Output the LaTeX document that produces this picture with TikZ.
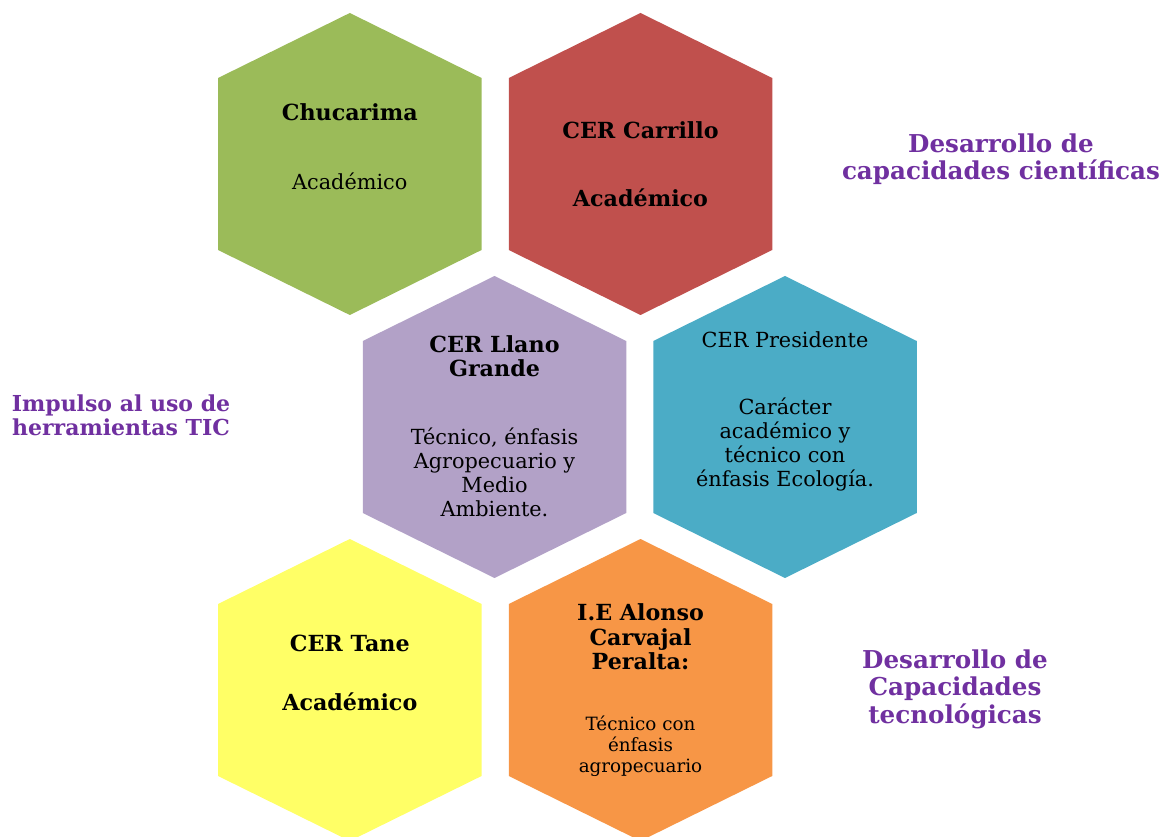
\documentclass[tikz,border=0pt]{standalone}
\usepackage{fontspec}
\setmainfont{DejaVu Serif}
\definecolor{hgreen}{HTML}{9BBB59}
\definecolor{hred}{HTML}{C0504D}
\definecolor{hpurple}{HTML}{B2A1C7}
\definecolor{hblue}{HTML}{4BACC6}
\definecolor{hyellow}{HTML}{FFFF66}
\definecolor{horange}{HTML}{F79646}
\definecolor{lblpurple}{HTML}{7030A0}
\tikzset{
  pics/hexa/.style={code={\fill[#1] (0,-151) -- (131.75,-86) -- (131.75,86) -- (0,151) -- (-131.75,86) -- (-131.75,-86) -- cycle;}},
  hb/.style={inner sep=0pt, align=center, font=\fontsize{22.2}{24.5}\selectfont\bfseries},
  hr/.style={inner sep=0pt, align=center, font=\fontsize{20.8}{24}\selectfont},
  hs/.style={inner sep=0pt, align=center, font=\fontsize{18.3}{21}\selectfont},
  lbl/.style={inner sep=0pt, align=center, text=lblpurple, font=\fontsize{24.6}{27.5}\selectfont\bfseries}
}
\begin{document}
\begin{tikzpicture}[x=1pt,y=-1pt]
\useasboundingbox (0,0) rectangle (1163,837);
\begin{scope}
\clip (0,0) rectangle (1163,837);
\pic at (349.8,164) {hexa=hgreen};
\pic at (640.5,164) {hexa=hred};
\pic at (494.5,427) {hexa=hpurple};
\pic at (785,427) {hexa=hblue};
\pic at (349.8,690) {hexa=hyellow};
\pic at (640.5,690) {hexa=horange};
\end{scope}
% green
\node[hb] (g1) at (349.8,112) {Chucarima};
\node[hr] (g2) at (349.8,181) {Académico};
% red
\node[hb] (r1) at (640.5,130) {CER Carrillo};
\node[hb] (r2) at (640.5,198) {Académico};
% purple
\node[hb] (p1) at (494.5,356) {CER Llano\\Grande};
\node[hr] (p2) at (494.5,472) {Técnico, énfasis\\Agropecuario y\\Medio\\Ambiente.};
% blue
\node[hr] (b1) at (785,340) {CER Presidente};
\node[hr] (b2) at (785,444) {Carácter\\académico y\\técnico con\\énfasis Ecología.};
% yellow
\node[hb] (y1) at (349.8,643) {CER Tane};
\node[hb] (y2) at (349.8,702) {Académico};
% orange
\node[hb] (o1) at (640.5,637) {I.E Alonso\\Carvajal\\Peralta:};
\node[hs] (o2) at (640.5,746) {Técnico con\\énfasis\\agropecuario};
% labels
\node[lbl] (l1) at (1001,159) {Desarrollo de\\capacidades científicas};
\node[lbl, font=\fontsize{22}{24}\selectfont\bfseries] (l2) at (121,415) {Impulso al uso de\\herramientas TIC};
\node[lbl] (l3) at (955,689) {Desarrollo de\\Capacidades\\tecnológicas};
\end{tikzpicture}
\end{document}
